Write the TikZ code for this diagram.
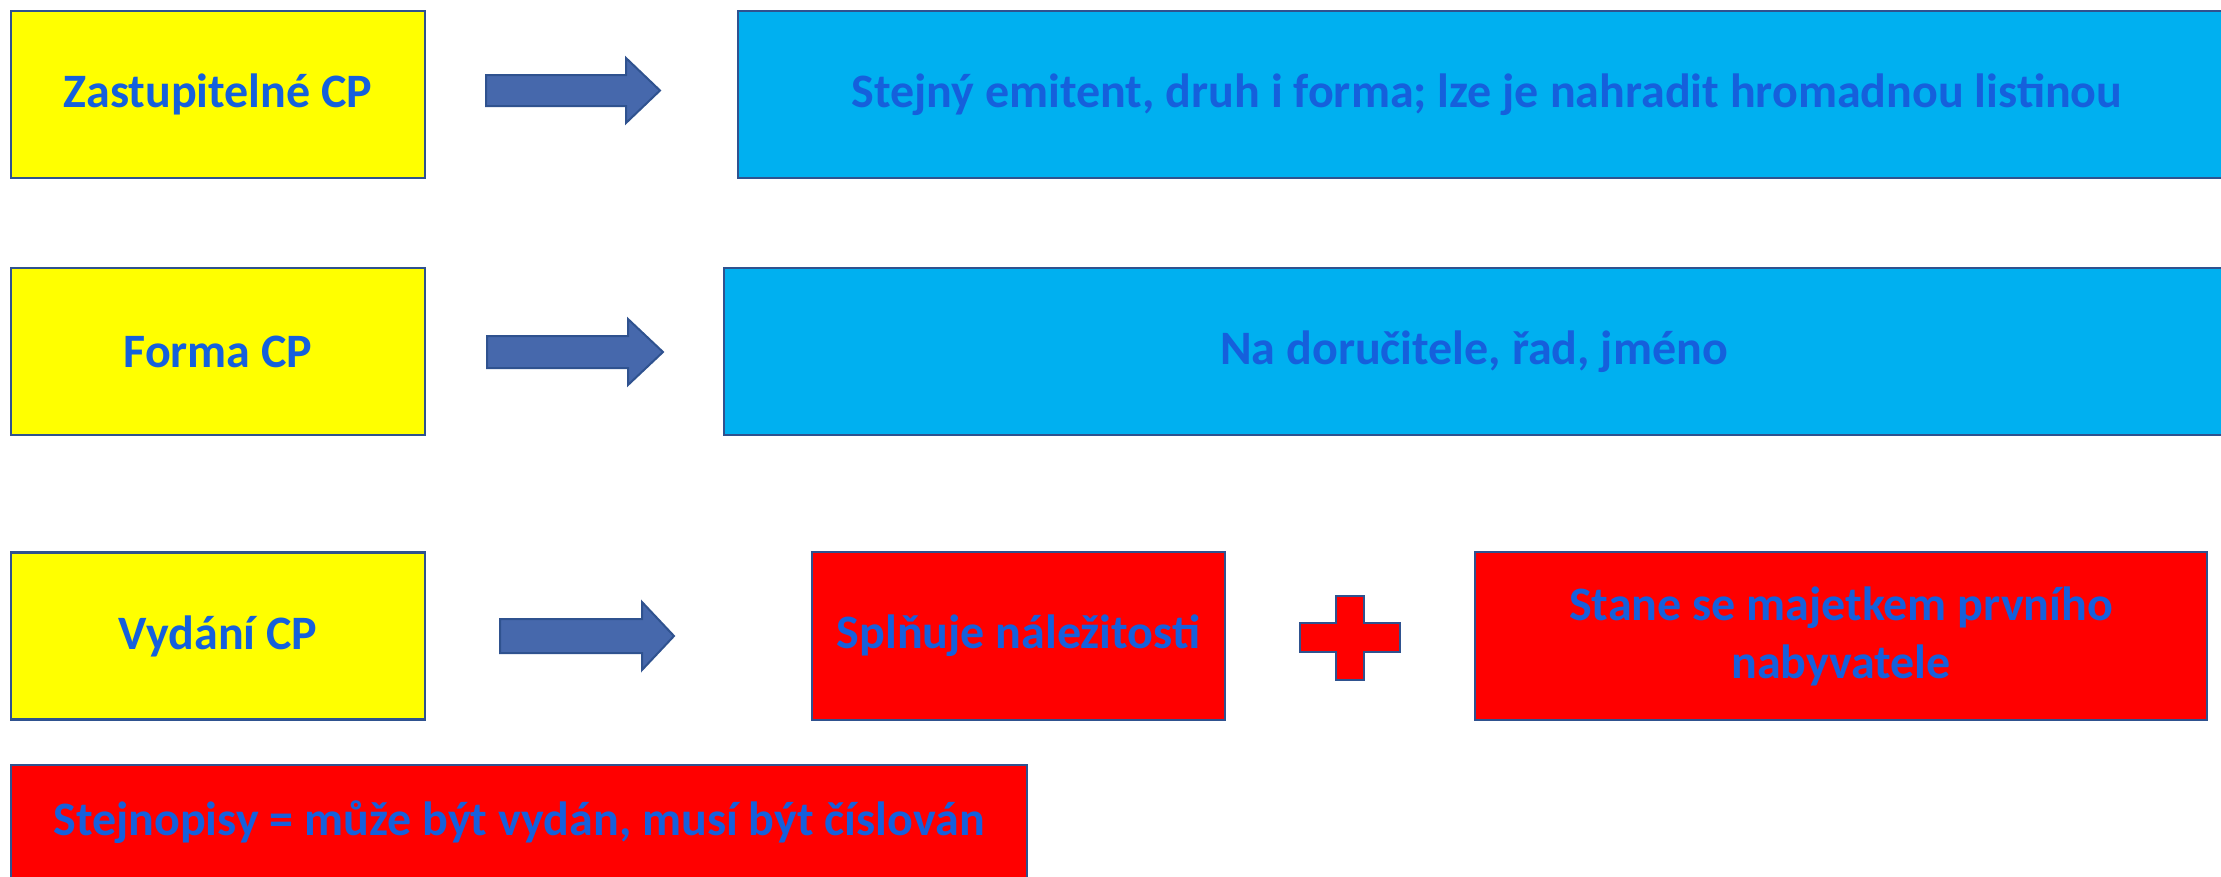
\documentclass[tikz,border=0pt]{standalone}
\usepackage{fontspec}
\setmainfont{Carlito}
\usepackage{xcolor}
\usetikzlibrary{positioning}

\definecolor{cpyellow}{RGB}{255,255,0}
\definecolor{cpcyan}{RGB}{0,176,240}
\definecolor{cpred}{RGB}{255,0,0}
\definecolor{cpline}{RGB}{47,82,143}
\definecolor{cparrow}{RGB}{70,104,172}
\definecolor{cptext}{RGB}{21,96,220}

\tikzset{
    box/.style={draw=cpline, line width=2.5pt, inner sep=0pt, align=center,
        font=\fontsize{48}{58}\selectfont\bfseries, text=cptext},
    termbox/.style={box, fill=cpyellow, minimum width=414pt, minimum height=167pt},
    infobox/.style={box, fill=cpcyan, minimum height=167pt},
    redbox/.style={box, fill=cpred},
    blockarr/.style={draw=cpline, line width=2pt, fill=cparrow, line join=miter}
}

\begin{document}
\begin{tikzpicture}[x=1pt, y=-1pt]
    \useasboundingbox (0,0) rectangle (2221,876);

    % left column
    \node[termbox] (zast) at (218,94.5) {Zastupitelné CP};
    \node[termbox] (forma) at (218,351.5) {Forma CP};
    \node[termbox] (vydani) at (218,636) {Vydání CP};

    % block arrows
    \draw[blockarr] (486,75) -- (626,75) -- (626,58) -- (660,90.5) -- (626,123) -- (626,106) -- (486,106) -- cycle;
    \draw[blockarr] (487,336) -- (628,336) -- (628,319) -- (663,352) -- (628,385) -- (628,368) -- (487,368) -- cycle;
    \draw[blockarr] (500,619) -- (642,619) -- (642,602) -- (674,636) -- (642,670) -- (642,653) -- (500,653) -- cycle;

    % right side
    \node[infobox, minimum width=1498pt] (zastinfo) at (1487,94.5) {Stejný emitent, druh i forma; lze je nahradit hromadnou listinou};
    \node[infobox, minimum width=1500pt] (formainfo) at (1474,351.5) {Na doručitele, řad, jméno};
    \node[redbox, minimum width=413pt, minimum height=168pt] (splnuje) at (1018.5,636) {Splňuje náležitosti};
    \node[redbox, minimum width=732pt, minimum height=168pt] (majetek) at (1841,636) {Stane se majetkem prvního\\nabyvatele};

    % plus sign
    \draw[blockarr, fill=cpred] (1336,596) -- (1364,596) -- (1364,623) -- (1400,623) -- (1400,652) -- (1364,652) -- (1364,680) -- (1336,680) -- (1336,652) -- (1300,652) -- (1300,623) -- (1336,623) -- cycle;

    % bottom note
    \node[redbox, minimum width=1016pt, minimum height=115pt] (stejnopisy) at (519,822.5) {Stejnopisy = může být vydán, musí být číslován};
\end{tikzpicture}
\end{document}
